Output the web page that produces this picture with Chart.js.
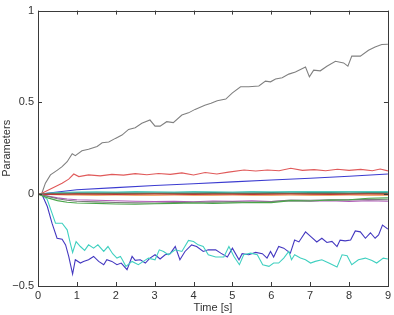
<!DOCTYPE html>
<html>
<head>
<meta charset="utf-8">
<script src="https://cdn.jsdelivr.net/npm/chart.js@4/dist/chart.umd.min.js"></script>
<style>
html,body{margin:0;padding:0;background:#fff;}
#wrap{position:relative;width:394px;height:315px;}
</style>
</head>
<body>
<div id="wrap"><canvas id="c" width="394" height="315"></canvas></div>
<script>
// ---- data ----
const xTicks = [0,1,2,3,4,5,6,7,8,9];
const yTicks = [-0.5,0,0.5,1];
const yTickLabels = ['\u22120.5','0','0.5','1'];
const xTitle = 'Time [s]';
const yTitle = 'Parameters';

const greyT = [0,0.1,0.19,0.32,0.49,0.62,0.75,0.88,0.96,1.13,1.3,1.52,1.65,1.82,1.99,2.16,2.33,2.5,2.67,2.88,3.01,3.14,3.31,3.48,3.7,3.87,4.04,4.29,4.45,4.61,4.83,5.0,5.21,5.42,5.68,5.85,5.98,6.11,6.28,6.45,6.62,6.88,6.98,7.09,7.26,7.43,7.65,7.86,7.97,8.07,8.29,8.5,8.67,8.84,9.0];
const greyY = [0,0.005,0.06,0.105,0.13,0.15,0.177,0.22,0.21,0.237,0.245,0.26,0.28,0.284,0.304,0.322,0.353,0.362,0.386,0.404,0.371,0.371,0.395,0.39,0.431,0.443,0.462,0.485,0.495,0.509,0.518,0.552,0.585,0.585,0.589,0.616,0.612,0.627,0.634,0.654,0.666,0.693,0.639,0.676,0.672,0.697,0.724,0.715,0.697,0.752,0.752,0.784,0.802,0.815,0.817];

const redT = [0,0.1,0.36,0.62,0.79,0.92,1.05,1.3,1.6,1.9,2.2,2.5,2.8,3.1,3.4,3.7,4.0,4.3,4.6,4.9,5.3,5.6,5.9,6.2,6.5,6.8,7.1,7.4,7.7,8.0,8.3,8.6,8.8,9.0];
const redY = [0,0.005,0.033,0.06,0.082,0.11,0.096,0.105,0.1,0.108,0.104,0.112,0.106,0.113,0.108,0.116,0.105,0.118,0.11,0.12,0.132,0.126,0.132,0.128,0.141,0.13,0.134,0.128,0.136,0.13,0.135,0.128,0.137,0.127];

const blueT = [0,0.5,1,2,3,4,5,6,7,8,9];
const blueY = [0,0.012,0.024,0.036,0.047,0.057,0.067,0.077,0.087,0.098,0.11];

const nearT = [0,0.25,0.5,0.75,1,1.5,2,2.5,3,3.5,4,4.5,5,5.5,6,6.5,7,7.5,8,8.5,9];
const tealY   = [0,0.005,0.009,0.011,0.012,0.013,0.012,0.014,0.013,0.012,0.014,0.013,0.012,0.014,0.013,0.014,0.015,0.014,0.015,0.014,0.015];
const darkTealY = [0,0.003,0.005,0.006,0.007,0.008,0.007,0.008,0.008,0.007,0.008,0.009,0.008,0.008,0.009,0.008,0.009,0.009,0.008,0.009,0.009];
const oliveY  = [0,0.001,0.002,0.002,0.003,0.003,0.004,0.003,0.004,0.004,0.003,0.004,0.004,0.003,0.004,0.004,0.003,0.004,0.004,0.004,0.004];
const orangeY = [0,-0.002,-0.003,-0.004,-0.004,-0.005,-0.004,-0.005,-0.005,-0.004,-0.005,-0.005,-0.004,-0.005,-0.005,-0.004,-0.005,-0.005,-0.004,-0.005,-0.005];
const darkRedY = [0,-0.001,-0.001,0,0.001,0,-0.001,0,0.001,0,-0.001,0,0,-0.001,0,0.001,0,-0.001,0,0.001,0];
const purpleY = [0,-0.01,-0.02,-0.026,-0.03,-0.033,-0.036,-0.038,-0.04,-0.038,-0.041,-0.037,-0.039,-0.036,-0.04,-0.035,-0.038,-0.036,-0.039,-0.036,-0.038];
const greyLowY = [0,-0.012,-0.025,-0.033,-0.038,-0.042,-0.045,-0.047,-0.048,-0.046,-0.044,-0.043,-0.041,-0.043,-0.04,-0.032,-0.033,-0.03,-0.031,-0.028,-0.03];
const greenY  = [0,-0.02,-0.035,-0.044,-0.048,-0.05,-0.053,-0.055,-0.052,-0.05,-0.048,-0.05,-0.047,-0.045,-0.046,-0.035,-0.037,-0.032,-0.03,-0.022,-0.02];

const indigoT = [0,0.1,0.24,0.36,0.49,0.62,0.71,0.79,0.89,0.96,1.09,1.17,1.3,1.43,1.56,1.69,1.77,1.9,2.03,2.14,2.29,2.42,2.5,2.63,2.76,2.88,3.01,3.14,3.27,3.4,3.53,3.65,3.78,3.95,4.08,4.25,4.38,4.57,4.7,4.87,5.0,5.17,5.25,5.42,5.6,5.77,5.89,5.98,6.06,6.19,6.32,6.49,6.6,6.71,6.88,7.01,7.17,7.3,7.43,7.56,7.69,7.77,7.9,8.04,8.16,8.29,8.42,8.55,8.67,8.76,8.86,9.0];
const indigoY = [0,0,-0.067,-0.158,-0.24,-0.245,-0.276,-0.339,-0.435,-0.357,-0.375,-0.366,-0.357,-0.339,-0.366,-0.384,-0.357,-0.366,-0.384,-0.375,-0.411,-0.339,-0.36,-0.357,-0.375,-0.348,-0.33,-0.353,-0.33,-0.324,-0.285,-0.357,-0.312,-0.276,-0.285,-0.312,-0.303,-0.303,-0.321,-0.342,-0.294,-0.357,-0.324,-0.33,-0.317,-0.324,-0.348,-0.312,-0.342,-0.285,-0.294,-0.321,-0.25,-0.26,-0.205,-0.23,-0.26,-0.24,-0.263,-0.257,-0.285,-0.25,-0.254,-0.25,-0.2,-0.205,-0.24,-0.21,-0.24,-0.222,-0.168,-0.19];

const cyanT = [0,0.1,0.24,0.36,0.45,0.62,0.75,0.83,0.89,0.98,1.09,1.2,1.3,1.43,1.54,1.69,1.8,1.92,2.03,2.12,2.17,2.26,2.42,2.58,2.71,2.84,3.01,3.12,3.23,3.35,3.53,3.7,3.87,4.0,4.12,4.25,4.38,4.57,4.78,4.91,5.04,5.18,5.29,5.47,5.64,5.78,5.94,6.06,6.19,6.32,6.45,6.52,6.6,6.75,6.88,7.01,7.13,7.3,7.48,7.69,7.82,7.95,8.07,8.24,8.42,8.59,8.71,8.88,9.0];
const cyanY = [0,0,-0.03,-0.103,-0.158,-0.158,-0.194,-0.266,-0.317,-0.258,-0.285,-0.306,-0.276,-0.294,-0.276,-0.312,-0.285,-0.324,-0.348,-0.339,-0.357,-0.393,-0.366,-0.384,-0.366,-0.348,-0.357,-0.303,-0.312,-0.33,-0.303,-0.312,-0.252,-0.258,-0.276,-0.285,-0.33,-0.342,-0.342,-0.285,-0.339,-0.384,-0.33,-0.321,-0.33,-0.384,-0.393,-0.375,-0.375,-0.348,-0.312,-0.357,-0.33,-0.348,-0.357,-0.375,-0.366,-0.357,-0.375,-0.397,-0.33,-0.335,-0.384,-0.357,-0.348,-0.361,-0.375,-0.348,-0.353];

// ---- chart ----
function pts(t, y){ return t.map((x,i)=>({x:x, y:y[i]})); }
function ds(t, y, color){
  return {data: pts(t,y), borderColor: color, borderWidth: 1.1, pointRadius: 0, fill: false, tension: 0};
}

const boxPlugin = {
  id: 'box',
  afterDatasetsDraw(chart){
    const {ctx, chartArea: a, scales} = chart;
    ctx.save();
    ctx.strokeStyle = '#3a3a3a';
    ctx.lineWidth = 1;
    ctx.strokeRect(Math.round(a.left)+0.5, Math.round(a.top)+0.5, Math.round(a.right-a.left), Math.round(a.bottom-a.top));
    const L = 4;
    ctx.beginPath();
    xTicks.forEach(v=>{
      const px = Math.round(scales.x.getPixelForValue(v))+0.5;
      ctx.moveTo(px, a.bottom); ctx.lineTo(px, a.bottom-L);
      ctx.moveTo(px, a.top); ctx.lineTo(px, a.top+L);
    });
    yTicks.forEach(v=>{
      const py = Math.round(scales.y.getPixelForValue(v))+0.5;
      ctx.moveTo(a.left, py); ctx.lineTo(a.left+L, py);
      ctx.moveTo(a.right, py); ctx.lineTo(a.right-L, py);
    });
    ctx.stroke();
    ctx.restore();
  }
};

new Chart(document.getElementById('c'), {
  type: 'line',
  data: {
    datasets: [
      ds(nearT, greenY, '#4aa64a'),
      ds(nearT, greyLowY, '#7a7a7a'),
      ds(nearT, purpleY, '#b05ab8'),
      ds(nearT, darkRedY, '#c03838'),
      ds(nearT, orangeY, '#f09040'),
      ds(nearT, oliveY, '#6d6d4a'),
      ds(nearT, darkTealY, '#3a9a8a'),
      ds(nearT, tealY, '#50c8b8'),
      ds(blueT, blueY, '#3c3cd0'),
      ds(redT, redY, '#e05a5a'),
      ds(greyT, greyY, '#808080'),
      ds(cyanT, cyanY, '#40d0c0'),
      ds(indigoT, indigoY, '#4438c0')
    ]
  },
  options: {
    responsive: false,
    animation: false,
    events: [],
    layout: {padding: {top: 10, right: 5, left: 0, bottom: 0}},
    plugins: {legend: {display: false}, tooltip: {enabled: false}},
    scales: {
      x: {
        type: 'linear', min: 0, max: 9,
        afterBuildTicks: s => { s.ticks = xTicks.map(v=>({value:v})); },
        afterFit: s => { s.height = 29; },
        grid: {display: false, drawTicks: false},
        border: {display: false},
        ticks: {color: '#333', font: {family: 'Liberation Sans, Arial, sans-serif', size: 11}, padding: 3, maxRotation: 0},
        title: {display: true, text: xTitle, color: '#333', font: {family: 'Liberation Sans, Arial, sans-serif', size: 11}, padding: {top: 0, bottom: 0}}
      },
      y: {
        type: 'linear', min: -0.5, max: 1,
        afterBuildTicks: s => { s.ticks = yTicks.map(v=>({value:v})); },
        afterFit: s => { s.width = 38; },
        grid: {display: false, drawTicks: false},
        border: {display: false},
        ticks: {color: '#333', font: {family: 'Liberation Sans, Arial, sans-serif', size: 11}, padding: 4,
          callback: v => { const i = yTicks.indexOf(v); return i >= 0 ? yTickLabels[i] : ''; }},
        title: {display: true, text: yTitle, color: '#333', font: {family: 'Liberation Sans, Arial, sans-serif', size: 11}, padding: {top: 0, bottom: 2}}
      }
    }
  },
  plugins: [boxPlugin]
});
</script>
</body>
</html>
